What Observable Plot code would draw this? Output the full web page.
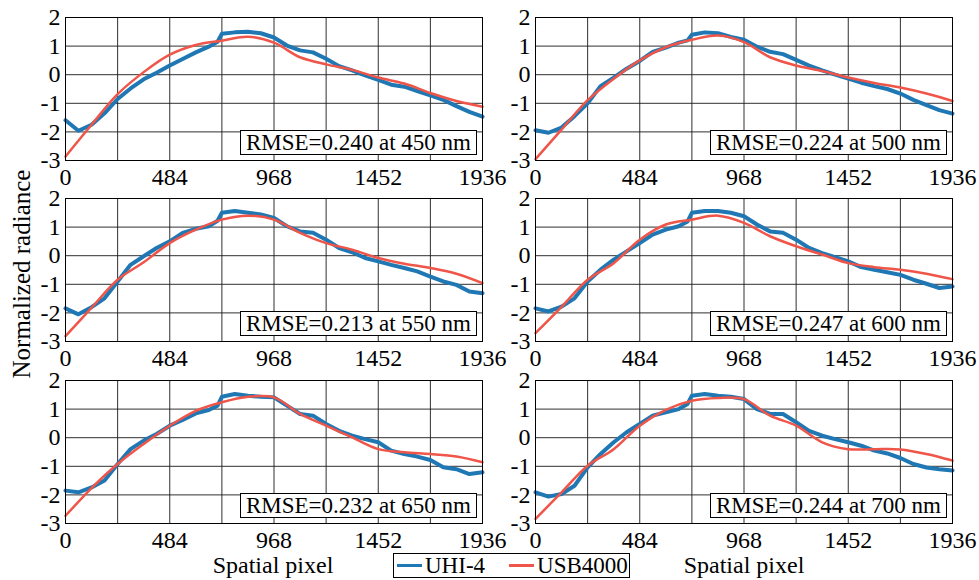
<!DOCTYPE html>
<html>
<head>
<meta charset="utf-8">
<script src="https://cdn.jsdelivr.net/npm/d3@7"></script>
<script src="https://cdn.jsdelivr.net/npm/@observablehq/plot@0.6"></script>
<style>
  body { margin: 0; background: #fff; }
  #fig { position: relative; width: 979px; height: 580px; overflow: hidden; color: #000; background: #fff;
         font-family: "Liberation Serif", serif; }
  .panel { position: absolute; width: 490px; height: 185px; }
  .rmse { position: absolute; right: 13px; bottom: 30px; height: 25px; box-sizing: border-box;
          border: 1.3px solid #000; background: #fff; padding: 0 5px; font-size: 23px;
          line-height: 23px; white-space: nowrap; }
  .xtitle { position: absolute; top: 551px; font-size: 24px; line-height: 28px; width: 300px;
            text-align: center; }
  .ytitle { position: absolute; left: 22px; top: 274px; font-size: 25px; line-height: 28px;
            white-space: nowrap; transform: translate(-50%, -50%) rotate(-90deg); }
  .legend { position: absolute; left: 393px; top: 553px; width: 237px; height: 25px;
            box-sizing: border-box; border: 1px solid #000; font-size: 23px; line-height: 23px;
            display: flex; align-items: center; padding-left: 3px; }
  .legend .sw { display: inline-block; width: 25px; height: 3px; margin-right: 3px; }
  .legend .item { display: flex; align-items: center; }
</style>
</head>
<body>
<div id="fig"></div>
<script>
// Sample positions along the detector (spatial pixel index)
const xUHI = [0, 60, 121, 181, 242, 302, 363, 423, 484, 544, 605, 665, 706, 726, 786, 847, 907,
              968, 1028, 1089, 1149, 1210, 1270, 1331, 1391, 1452, 1512, 1573, 1633, 1694,
              1754, 1815, 1875, 1936];
const xUSB = [0, 121, 242, 363, 484, 605, 726, 847, 968, 1089, 1210, 1331, 1452, 1573, 1694, 1815, 1936];

// Normalized radiance, UHI-4 camera
const uhi450 = [-1.59, -1.96, -1.75, -1.35, -0.85, -0.48, -0.16, 0.07, 0.32, 0.55, 0.78, 0.98, 1.15, 1.43, 1.48, 1.50, 1.45,
                1.30, 1.02, 0.85, 0.78, 0.56, 0.30, 0.15, -0.02, -0.18, -0.35, -0.42, -0.57, -0.72, -0.88, -1.10, -1.30, -1.47];
const uhi500 = [-1.94, -2.03, -1.85, -1.45, -1.00, -0.40, -0.10, 0.21, 0.48, 0.80, 0.95, 1.12, 1.20, 1.40, 1.48, 1.45, 1.32,
                1.22, 0.98, 0.80, 0.72, 0.52, 0.32, 0.15, 0.00, -0.14, -0.28, -0.40, -0.50, -0.66, -0.88, -1.06, -1.24, -1.36];
const uhi550 = [-1.84, -2.05, -1.80, -1.49, -0.90, -0.32, -0.02, 0.27, 0.50, 0.80, 0.94, 1.03, 1.22, 1.50, 1.56, 1.50, 1.44,
                1.32, 1.03, 0.85, 0.80, 0.56, 0.27, 0.12, -0.08, -0.20, -0.32, -0.43, -0.55, -0.73, -0.90, -1.02, -1.25, -1.31];
const uhi600 = [-1.84, -1.95, -1.78, -1.49, -0.90, -0.49, -0.14, 0.15, 0.44, 0.74, 0.91, 1.03, 1.20, 1.50, 1.56, 1.56, 1.50,
                1.38, 1.09, 0.85, 0.80, 0.56, 0.27, 0.09, -0.05, -0.20, -0.40, -0.49, -0.58, -0.67, -0.84, -0.98, -1.13, -1.08];
const uhi650 = [-1.85, -1.91, -1.74, -1.50, -0.92, -0.40, -0.10, 0.13, 0.42, 0.62, 0.85, 0.97, 1.12, 1.43, 1.53, 1.47, 1.43,
                1.41, 1.12, 0.83, 0.77, 0.48, 0.24, 0.07, -0.05, -0.16, -0.45, -0.57, -0.66, -0.78, -1.03, -1.10, -1.27, -1.21];
const uhi700 = [-1.91, -2.06, -1.97, -1.68, -1.04, -0.57, -0.16, 0.19, 0.48, 0.77, 0.89, 1.00, 1.18, 1.47, 1.53, 1.47, 1.43,
                1.35, 1.00, 0.83, 0.83, 0.54, 0.24, 0.07, -0.05, -0.16, -0.28, -0.45, -0.55, -0.71, -0.92, -1.04, -1.10, -1.15];

// Normalized radiance, USB4000 spectrometer
const usb450 = [-2.86, -1.75, -0.68, 0.09, 0.70, 1.04, 1.19, 1.33, 1.12, 0.61, 0.36, 0.17, -0.10, -0.31, -0.64, -0.92, -1.12];
const usb500 = [-2.95, -1.92, -0.89, -0.14, 0.50, 0.96, 1.22, 1.37, 1.14, 0.61, 0.32, 0.13, -0.10, -0.29, -0.45, -0.66, -0.92];
const usb550 = [-2.81, -1.82, -0.84, -0.23, 0.44, 0.91, 1.26, 1.40, 1.26, 0.80, 0.44, 0.21, -0.08, -0.28, -0.43, -0.63, -0.96];
const usb600 = [-2.71, -1.79, -0.84, -0.26, 0.56, 1.09, 1.26, 1.40, 1.15, 0.68, 0.33, 0.04, -0.26, -0.40, -0.49, -0.63, -0.82];
const usb650 = [-2.73, -1.76, -0.92, -0.22, 0.42, 0.94, 1.24, 1.43, 1.41, 0.83, 0.42, 0.01, -0.40, -0.51, -0.57, -0.66, -0.86];
const usb700 = [-2.84, -1.91, -0.98, -0.40, 0.42, 0.97, 1.29, 1.39, 1.35, 0.77, 0.42, -0.16, -0.40, -0.40, -0.41, -0.57, -0.80];

const wavelengths = [450, 500, 550, 600, 650, 700];
const rmseValues = [0.240, 0.224, 0.213, 0.247, 0.232, 0.244];
const uhiSeries = [uhi450, uhi500, uhi550, uhi600, uhi650, uhi700];
const usbSeries = [usb450, usb500, usb550, usb600, usb650, usb700];

const xTicks = [0, 484, 968, 1452, 1936];
const xGrid = [242, 484, 726, 968, 1210, 1452, 1694];
const yTicks = [-3, -2, -1, 0, 1, 2];
const yTickLabels = ["-3", "-2", "-1", "0", "1", "2"];
const seriesNames = ["UHI-4", "USB4000"];
const seriesColors = ["#1f77b4", "#ef5548"];

const font = '"Liberation Serif", serif';
const fig = document.getElementById("fig");

wavelengths.forEach((wl, i) => {
  const col = i % 2, row = Math.floor(i / 2);
  const uhi = xUHI.map((x, k) => ({x, y: uhiSeries[i][k]}));
  const usb = xUSB.map((x, k) => ({x, y: usbSeries[i][k]}));

  const chart = Plot.plot({
    width: 490,
    height: 185,
    marginLeft: 65,
    marginRight: 8,
    marginTop: 17,
    marginBottom: 25,
    style: {fontFamily: font, fontSize: "24px", background: "transparent", overflow: "visible", color: "#000"},
    x: {domain: [0, 1936]},
    y: {domain: [-3, 2]},
    marks: [
      Plot.gridX(xGrid, {stroke: "#1a1a1a", strokeOpacity: 0.9, strokeWidth: 1}),
      Plot.gridY([-2, -1, 0, 1], {stroke: "#1a1a1a", strokeOpacity: 0.9, strokeWidth: 1}),
      Plot.axisX(xTicks, {tickSize: 0, tickPadding: 7, fontSize: 24, label: null, tickFormat: d => String(d)}),
      Plot.axisY(yTicks, {tickSize: 0, tickPadding: 5, fontSize: 24, label: null,
                          tickFormat: d => yTickLabels[yTicks.indexOf(d)]}),
      Plot.line(uhi, {x: "x", y: "y", stroke: seriesColors[0], strokeWidth: 4}),
      Plot.line(usb, {x: "x", y: "y", stroke: seriesColors[1], strokeWidth: 2.5, curve: "catmull-rom"}),
      Plot.frame({stroke: "#000", strokeWidth: 1})
    ]
  });

  const holder = document.createElement("div");
  holder.className = "panel";
  holder.style.left = (col * 470) + "px";
  holder.style.top = [0, 181, 363][row] + "px";
  holder.appendChild(chart);

  const box = document.createElement("div");
  box.className = "rmse";
  box.textContent = `RMSE=${rmseValues[i].toFixed(3)} at ${wl} nm`;
  holder.appendChild(box);
  fig.appendChild(holder);
});

// Axis titles
[273, 744].forEach(cx => {
  const t = document.createElement("div");
  t.className = "xtitle";
  t.style.left = (cx - 150) + "px";
  t.textContent = "Spatial pixel";
  fig.appendChild(t);
});
const yt = document.createElement("div");
yt.className = "ytitle";
yt.textContent = "Normalized radiance";
fig.appendChild(yt);

// Legend
const legend = document.createElement("div");
legend.className = "legend";
seriesNames.forEach((name, k) => {
  const item = document.createElement("span");
  item.className = "item";
  if (k > 0) item.style.marginLeft = "24px";
  const sw = document.createElement("span");
  sw.className = "sw";
  sw.style.background = seriesColors[k];
  item.appendChild(sw);
  item.appendChild(document.createTextNode(name));
  legend.appendChild(item);
});
fig.appendChild(legend);
</script>
</body>
</html>
